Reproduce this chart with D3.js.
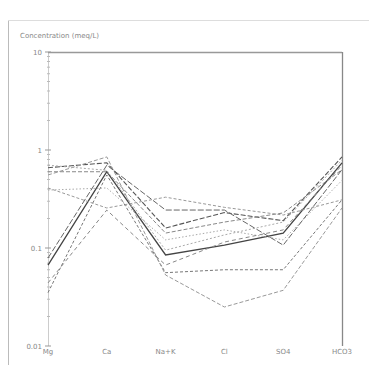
<!DOCTYPE html>
<html><head><meta charset="utf-8">
<script src="https://cdn.jsdelivr.net/npm/d3@7"></script>
<style>body{margin:0;background:#fff}svg{display:block}text{font-family:"DejaVu Sans",sans-serif}</style>
</head><body><svg id="c" width="369" height="365"></svg>
<script>
const categories = ["Mg", "Ca", "Na+K", "Cl", "SO4", "HCO3"];
const yTicks = [10, 1, 0.1, 0.01];
const yTickLabels = ["10", "1", "0.1", "0.01"];
const yTitle = "Concentration (meq/L)";
const s1 = [0.66, 0.74, 0.16, 0.23, 0.19, 0.85];
const s2 = [0.067, 0.60, 0.085, 0.107, 0.142, 0.74];
const s3 = [0.60, 0.60, 0.142, 0.184, 0.228, 0.63];
const s4 = [0.41, 0.256, 0.33, 0.26, 0.217, 0.31];
const s5 = [0.39, 0.41, 0.121, 0.153, 0.121, 0.49];
const s6 = [0.044, 0.244, 0.067, 0.115, 0.153, 0.70];
const s7 = [0.035, 0.556, 0.056, 0.060, 0.060, 0.31];
const s8 = [0.556, 0.85, 0.053, 0.025, 0.037, 0.256];
const s9 = [0.079, 0.70, 0.244, 0.244, 0.107, 0.63];
const s10 = [0.70, 0.62, 0.095, 0.136, 0.184, 0.79];
const seriesList = [s1, s2, s3, s4, s5, s6, s7, s8, s9, s10];
const styles = [
  {c:"#555", d:"5,2", w:1.1},
  {c:"#444", d:null, w:1.3},
  {c:"#888", d:"4,2", w:1},
  {c:"#999", d:"3,2", w:1},
  {c:"#aaa", d:"1.5,2", w:1},
  {c:"#888", d:"4,3", w:1},
  {c:"#777", d:"3,2", w:1},
  {c:"#999", d:"4,2", w:1},
  {c:"#666", d:"6,2", w:1},
  {c:"#aaa", d:"2,2", w:1}
];

const svg = d3.select("#c");
const L = 48, R = 342, T = 52, B = 346;
const x = d3.scalePoint().domain(categories).range([L, R]);
const y = d3.scaleLog().domain([0.01, 10]).range([B, T]);

// outer frame
svg.append("line").attr("x1",8.5).attr("x2",8.5).attr("y1",20).attr("y2",365).attr("stroke","#bbb");
svg.append("line").attr("x1",8).attr("x2",369).attr("y1",20.5).attr("y2",20.5).attr("stroke","#ddd");

// title
svg.append("text").attr("x",20).attr("y",38).attr("font-size",7).attr("fill","#888").text(yTitle);

// left axis
const minor = [];
[0.01,0.1,1].forEach(d => { for (let k=2;k<10;k++) minor.push(d*k); });
svg.append("line").attr("x1",L+0.5).attr("x2",L+0.5).attr("y1",T).attr("y2",B).attr("stroke","#ccc");
svg.selectAll(".mn").data(minor).join("line").attr("x1",L-1).attr("x2",L+2)
  .attr("y1",d=>y(d)).attr("y2",d=>y(d)).attr("stroke","#bbb");
svg.selectAll(".mj").data(yTicks).join("line").attr("x1",L-3).attr("x2",L+3)
  .attr("y1",d=>y(d)).attr("y2",d=>y(d)).attr("stroke","#999");
svg.selectAll(".yl").data(yTicks).join("text").attr("x",L-6).attr("y",d=>y(d)+2.5)
  .attr("text-anchor","end").attr("font-size",7).attr("fill","#888").text((d,i)=>yTickLabels[i]);

// top and right frame
svg.append("line").attr("x1",L).attr("x2",R).attr("y1",T+0.5).attr("y2",T+0.5).attr("stroke","#999").attr("stroke-width",1.3);
svg.append("line").attr("x1",R+0.5).attr("x2",R+0.5).attr("y1",T).attr("y2",B).attr("stroke","#888").attr("stroke-width",1.3);

// x labels
svg.selectAll(".xl").data(categories).join("text").attr("x",d=>x(d)).attr("y",354)
  .attr("text-anchor","middle").attr("font-size",7).attr("fill","#888").text(d=>d);

// series lines
const line = d3.line().x((d,i)=>x(categories[i])).y(d=>y(d));
svg.selectAll(".s").data(seriesList).join("path").attr("d",line).attr("fill","none")
  .attr("stroke",(d,i)=>styles[i].c).attr("stroke-width",(d,i)=>styles[i].w)
  .attr("stroke-dasharray",(d,i)=>styles[i].d);
</script></body></html>
